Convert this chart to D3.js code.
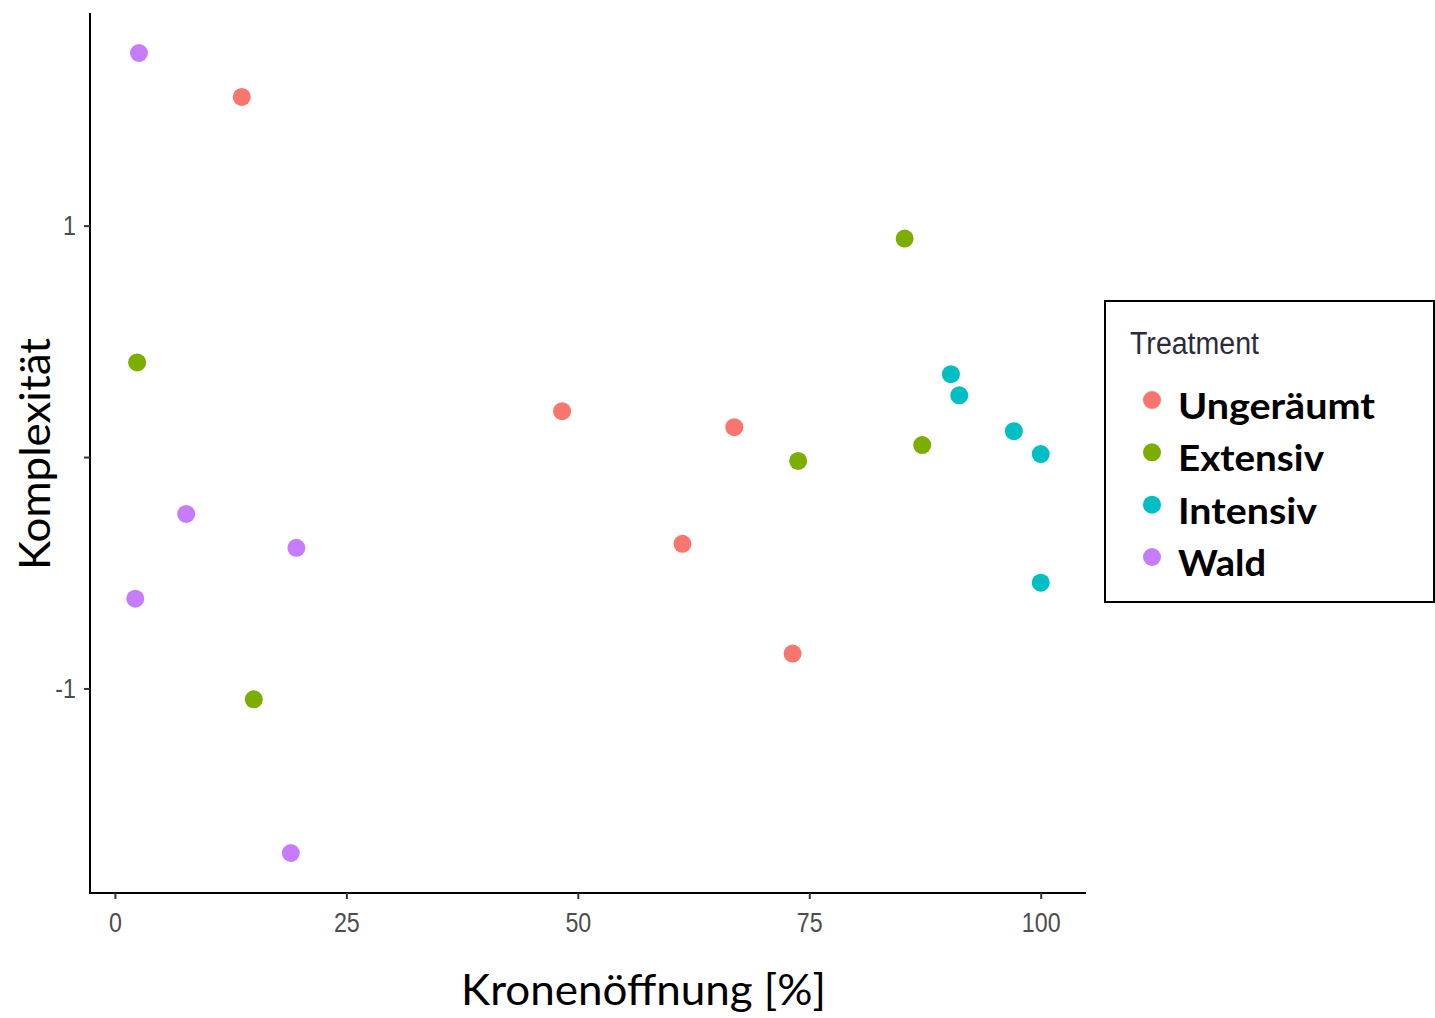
<!DOCTYPE html>
<html>
<head>
<meta charset="utf-8">
<script src="https://cdn.jsdelivr.net/npm/d3@7"></script>
<style>
  html, body { margin: 0; padding: 0; background: #fff; }
  svg { display: block; }
</style>
</head>
<body>
<svg id="chart" width="1435" height="1018"></svg>
<script>
// Treatment groups and their colours (ggplot default hues)
const treatments = ["Ungeräumt", "Extensiv", "Intensiv", "Wald"];
const treatmentColors = ["#F8766D", "#7CAE00", "#00BFC4", "#C77CFF"];

// Kronenöffnung [%] per plot, by treatment
const openUngeraeumt = [13.7, 48.3, 66.9, 61.3, 73.2];
const openExtensiv   = [2.4, 85.3, 87.2, 73.8, 15.0];
const openIntensiv   = [90.3, 91.2, 97.1, 100, 100];
const openWald       = [2.6, 7.7, 19.6, 2.2, 19.0];

// Komplexität per plot, by treatment
const complUngeraeumt = [1.556, 0.198, 0.129, -0.375, -0.849];
const complExtensiv   = [0.409, 0.944, 0.052, -0.017, -1.047];
const complIntensiv   = [0.358, 0.267, 0.112, 0.013, -0.543];
const complWald       = [1.746, -0.246, -0.392, -0.612, -1.711];

// Axis ticks
const xTicks = [0, 25, 50, 75, 100];
const xTickLabels = ["0", "25", "50", "75", "100"];
const yTicks = [-1, 0, 1];
const yTickLabels = ["-1", "", "1"];

const xTitle = "Kronenöffnung [%]";
const yTitle = "Komplexität";
const legendTitle = "Treatment";

const openings = [openUngeraeumt, openExtensiv, openIntensiv, openWald];
const complexities = [complUngeraeumt, complExtensiv, complIntensiv, complWald];

const points = [];
treatments.forEach((t, i) => {
  openings[i].forEach((x, j) => points.push({ treatment: t, x: x, y: complexities[i][j] }));
});

const svg = d3.select("#chart");

// panel bounds
const panel = { left: 90, right: 1086, top: 13, bottom: 893 };

// ggplot-like 5% expansion of the data range
function expand(ext) {
  const pad = (ext[1] - ext[0]) * 0.05;
  return [ext[0] - pad, ext[1] + pad];
}
const x = d3.scaleLinear().domain(expand(d3.extent(points, d => d.x))).range([panel.left, panel.right]);
const y = d3.scaleLinear().domain(expand(d3.extent(points, d => d.y))).range([panel.bottom, panel.top]);
const color = d3.scaleOrdinal().domain(treatments).range(treatmentColors);

// Axes
const xAxis = d3.axisBottom(x).tickValues(xTicks)
  .tickFormat((d, i) => xTickLabels[i]).tickSize(6).tickPadding(8).tickSizeOuter(0);
const yAxis = d3.axisLeft(y).tickValues(yTicks)
  .tickFormat((d, i) => yTickLabels[i]).tickSize(6).tickPadding(8).tickSizeOuter(0);

const gx = svg.append("g").attr("transform", `translate(0,${panel.bottom})`).call(xAxis);
const gy = svg.append("g").attr("transform", `translate(${panel.left},0)`).call(yAxis);

gx.select(".domain").attr("d", `M${panel.left - 1},0H${panel.right}`);
gy.select(".domain").attr("d", `M0,${panel.top}V${panel.bottom + 1}`);

[gx, gy].forEach(g => {
  g.select(".domain").attr("stroke", "#000").attr("stroke-width", 2);
  g.selectAll(".tick line").attr("stroke", "#333").attr("stroke-width", 2);
  g.selectAll(".tick text")
    .attr("fill", "#4D4D4D")
    .style("font-family", "'Liberation Sans', Arial, sans-serif")
    .style("font-size", "27px");
});
gx.selectAll(".tick text").attr("dy", "0.92em");

// slightly condensed tick digits
svg.selectAll(".tick text").each(function () {
  const w = this.getComputedTextLength();
  if (w > 0) d3.select(this).attr("textLength", w * 0.86).attr("lengthAdjust", "spacingAndGlyphs");
});

// Points
svg.append("g").selectAll("circle")
  .data(points)
  .join("circle")
  .attr("cx", d => x(d.x))
  .attr("cy", d => y(d.y))
  .attr("r", 9)
  .attr("fill", d => color(d.treatment));

// fit a text element to a given width
function fitWidth(sel, width) {
  sel.attr("textLength", width).attr("lengthAdjust", "spacingAndGlyphs");
}

// Axis titles
svg.append("text")
  .attr("x", 461).attr("y", 1005)
  .style("font-family", "Lato, 'Open Sans', sans-serif")
  .style("font-size", "42px")
  .attr("fill", "#000")
  .text(xTitle)
  .call(fitWidth, 365);

svg.append("text")
  .attr("transform", "translate(50,570) rotate(-90)")
  .style("font-family", "Lato, 'Open Sans', sans-serif")
  .style("font-size", "42px")
  .attr("fill", "#000")
  .text(yTitle)
  .call(fitWidth, 232);

// Legend
const legend = svg.append("g");
legend.append("rect")
  .attr("x", 1105).attr("y", 301).attr("width", 1434 - 1105).attr("height", 301)
  .attr("fill", "#fff").attr("stroke", "#000").attr("stroke-width", 2);

legend.append("text")
  .attr("x", 1130).attr("y", 354)
  .style("font-family", "'Liberation Sans', Arial, sans-serif")
  .style("font-size", "31px")
  .attr("fill", "#2b2b3a")
  .text(legendTitle)
  .call(fitWidth, 129);

const legendY = d3.scalePoint().domain(treatments).range([400, 557]);
const legendWidths = { "Ungeräumt": 197, "Extensiv": 146, "Intensiv": 139, "Wald": 88 };

const items = legend.selectAll("g.item")
  .data(treatments)
  .join("g")
  .attr("class", "item")
  .attr("transform", d => `translate(0,${legendY(d)})`);

items.append("circle")
  .attr("cx", 1152).attr("cy", 0).attr("r", 9)
  .attr("fill", d => color(d));

items.append("text")
  .attr("x", 1178).attr("y", 19)
  .style("font-family", "Lato, 'Open Sans', sans-serif")
  .style("font-weight", "bold")
  .style("font-size", "37px")
  .attr("fill", "#000")
  .text(d => d)
  .each(function (d) { d3.select(this).call(fitWidth, legendWidths[d]); });
</script>
</body>
</html>
